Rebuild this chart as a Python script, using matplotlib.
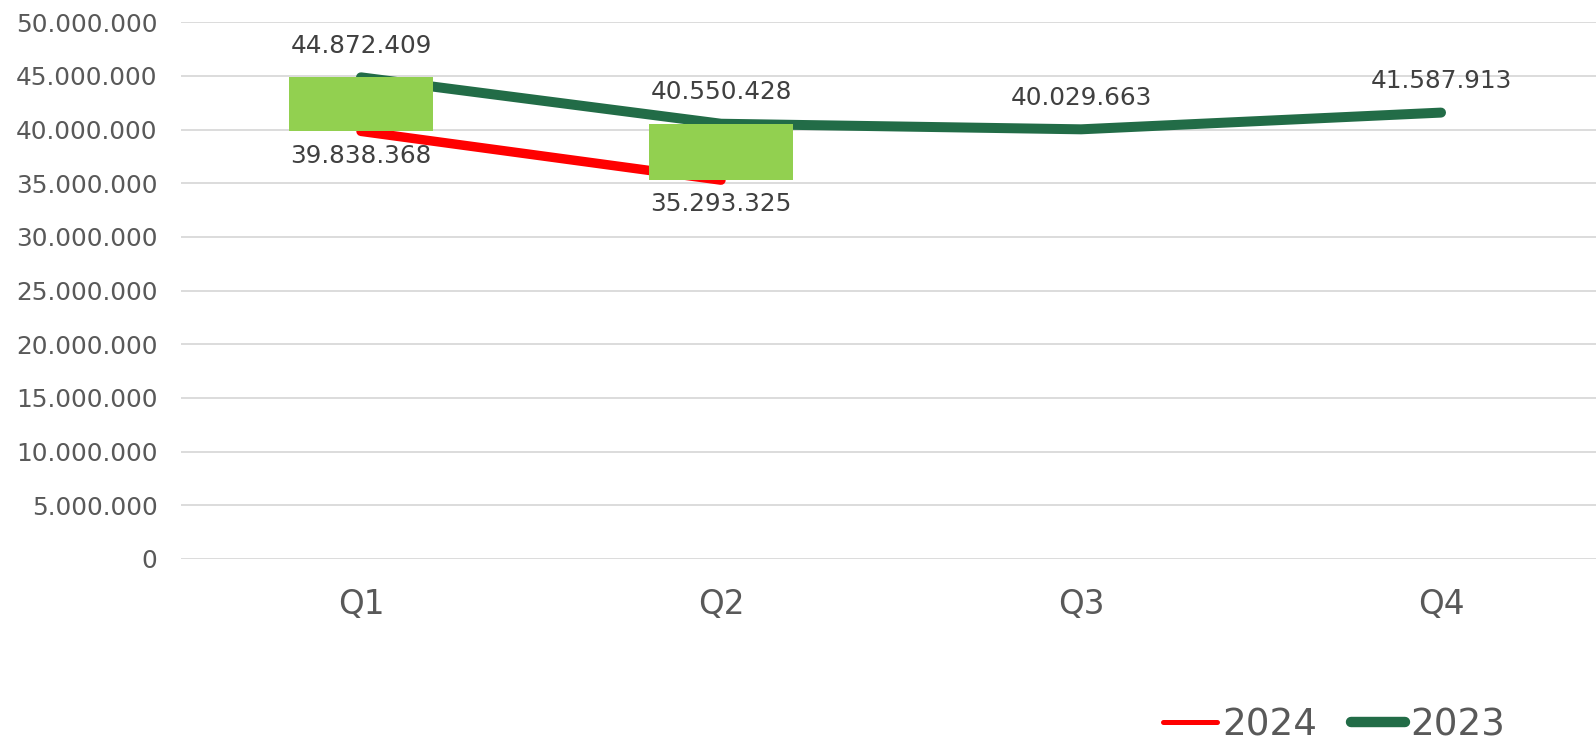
import matplotlib
matplotlib.use("Agg")
import matplotlib.pyplot as plt
from matplotlib.lines import Line2D
from matplotlib.ticker import FuncFormatter

categories = ["Q1", "Q2", "Q3", "Q4"]
values_2024 = [39838368, 35293325]
values_2023 = [44872409, 40550428, 40029663, 41587913]

RED = "#FF0000"
GREEN = "#226C47"
BAR = "#92D050"
GRID = "#D9D9D9"
TICK = "#595959"
LABEL = "#404040"

plt.rcParams['font.family'] = ['DejaVu Sans']

fig = plt.figure(figsize=(15.96, 7.42), dpi=100)
ax = fig.add_axes([181/1596, 1-559/742, 1440/1596, (559-22.3)/742])

x24 = list(range(len(values_2024)))
x23 = list(range(len(values_2023)))

ax.plot(x23, values_2023, color=GREEN, lw=7.2, solid_capstyle='round', solid_joinstyle='round', zorder=3)
ax.plot(x24, values_2024, color=RED, lw=6.8, solid_capstyle='round', solid_joinstyle='round', zorder=3)

# up/down bars between the two series
for i in range(min(len(values_2024), len(values_2023))):
    lo = min(values_2024[i], values_2023[i])
    hi = max(values_2024[i], values_2023[i])
    ax.bar(i, hi - lo, bottom=lo, width=0.40, color=BAR, zorder=4)

def fmt(v):
    return f"{v:,}".replace(",", ".")

for i, v in enumerate(values_2023):
    ax.annotate(fmt(v), (i, v), xytext=(0, 22.5), textcoords='offset points',
                ha='center', va='center', fontsize=17.8, color=LABEL, zorder=5)
for i, v in enumerate(values_2024):
    ax.annotate(fmt(v), (i, v), xytext=(0, -17.5), textcoords='offset points',
                ha='center', va='center', fontsize=17.8, color=LABEL, zorder=5)

ax.set_xlim(-0.5, 3.5)
ax.set_ylim(0, 50000000)
ax.set_yticks(range(0, 50000001, 5000000))
ax.yaxis.set_major_formatter(FuncFormatter(lambda v, p: fmt(int(v))))
ax.set_xticks(range(len(categories)))
ax.set_xticklabels(categories)
ax.tick_params(axis='y', length=0, pad=17, labelsize=17.8, labelcolor=TICK)
ax.tick_params(axis='x', length=0, pad=21, labelsize=23.5, labelcolor=TICK)
ax.grid(axis='y', color=GRID, lw=1.3, zorder=0)
ax.set_axisbelow(True)
for s in ax.spines.values():
    s.set_visible(False)

handles = [Line2D([0], [0], color=RED, lw=3.6, solid_capstyle='round'),
           Line2D([0], [0], color=GREEN, lw=7.5, solid_capstyle='round')]
fig.legend(handles, ["2024", "2023"], loc='center left',
           bbox_to_anchor=(1163/1596, 1-725/742), ncol=2, frameon=False,
           fontsize=26.8, labelcolor=TICK, handlelength=1.45, handletextpad=0.15,
           columnspacing=0.9, borderpad=0, borderaxespad=0)

fig.savefig("out.png", dpi=100)
